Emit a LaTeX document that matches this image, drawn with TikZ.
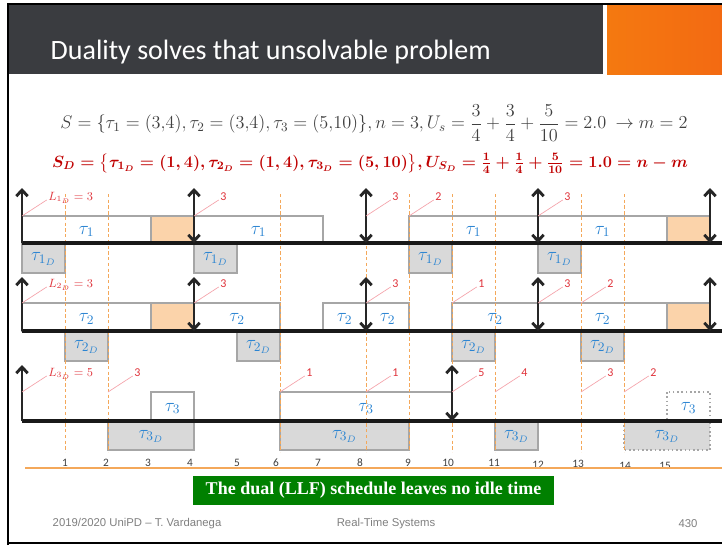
\RequirePackage{fix-cm}
\documentclass[tikz,border=0pt]{standalone}
\usepackage{amsmath}
\usepackage{fontspec}
\setmainfont{Carlito}
\newfontfamily\footfont{Liberation Sans}
\newfontfamily\notefont{Liberation Serif}
\usepackage{xcolor}
\definecolor{slidegray}{HTML}{3A3C40}
\definecolor{slideorange}{HTML}{F36A12}
\definecolor{boxgray}{HTML}{A6A6A6}
\definecolor{dualfill}{HTML}{D9D9D9}
\definecolor{idlefill}{HTML}{FBD3AA}
\definecolor{taskblue}{HTML}{2A84D2}
\definecolor{lblred}{HTML}{E0333B}
\definecolor{leadpink}{HTML}{F5A3AA}
\definecolor{tickorange}{HTML}{F4A85A}
\definecolor{formred}{HTML}{C00000}
\definecolor{formgray}{HTML}{404040}
\definecolor{notegreen}{HTML}{008000}
\usepackage{tikz}
\usetikzlibrary{arrows.meta}

\begin{document}
\begin{tikzpicture}[x=0.75pt, y=-0.75pt,
  jobbox/.style={draw=boxgray, line width=1.2pt, fill=white},
  idlebox/.style={draw=boxgray, line width=1.2pt, fill=idlefill},
  dualbox/.style={draw=boxgray, line width=1.2pt, fill=dualfill},
  ghost/.style={draw=boxgray, line width=1.2pt, dotted},
  tasklbl/.style={font=\fontsize{14}{16}\selectfont, text=taskblue, inner sep=0pt},
  numlbl/.style={font=\fontsize{9}{11}\selectfont, text=lblred, inner sep=1pt, anchor=base west, xshift=18.5pt, yshift=12pt},
  leader/.style={draw=leadpink, line width=0.5pt},
  axisline/.style={draw=black!90, line width=2.6pt},
  dlarrow/.style={draw=black!85, line width=2.2pt, -{Straight Barb[length=4.5pt, width=8.5pt]}},
  dlboth/.style={draw=black!85, line width=2.2pt, {Straight Barb[length=4.5pt, width=8.5pt]}-{Straight Barb[length=4.5pt, width=8.5pt]}},
  slot/.style={draw=tickorange, line width=0.6pt, dash pattern=on 2.5pt off 1.8pt},
  ticknum/.style={font=\fontsize{8.5}{10}\selectfont, text=black!75}]
  \fill[white] (0,0) rectangle (722,546);
  \useasboundingbox (0,0) rectangle (722,546);
  \fill[slidegray] (8,5) rectangle (603,74);
  \shade[left color=slideorange!90!yellow, right color=slideorange] (607,5) rectangle (722,74);
  \node[anchor=base west, text=white, font=\fontsize{21}{24}\selectfont] (title) at (46,60) {Duality solves that unsolvable problem};
  \draw[line width=2pt] (8,545) -- (8,4) -- (724,4);
  \draw[line width=2pt] (8,543) -- (724,543);

  \node[text=formgray, font=\fontsize{13.7}{16}\selectfont] (sysS) at (374,123)
    {$S=\{\tau_1=(3{,}4),\tau_2=(3{,}4),\tau_3=(5{,}10)\},n=3,U_s=\dfrac{3}{4}+\dfrac{3}{4}+\dfrac{5}{10}=2.0\ \rightarrow m=2$};
  \node[text=formred, font=\fontsize{12.2}{15}\selectfont\boldmath] (sysD) at (370,163)
    {$S_D=\bigl\{\tau_{1_D}=(1,4),\tau_{2_D}=(1,4),\tau_{3_D}=(5,10)\bigr\},U_{S_D}=\frac{1}{4}+\frac{1}{4}+\frac{5}{10}=1.0=n-m$};

  \begin{scope}[shift={(22,0)}, x=32.25pt]
    \foreach \a/\b/\yt/\ya/\i [count=\k] in {0/3/216/243/1,4/7/216/243/1,9/12/216/243/1,12/15/216/243/1,
        0/3/303/331/2,4/6/303/331/2,7/8/303/331/2,8/9/303/331/2,10/12/303/331/2,12/15/303/331/2,
        3/4/392/421/3,6/10/392/421/3}{
      \draw[jobbox] (\a,\yt) rectangle (\b,\ya);
      \node[tasklbl] (job\k) at ({(\a+\b)/2},{(\yt+\ya)/2+2}) {$\tau_{\i}$};}
    \foreach \a/\yt/\ya in {3/216/243,15/216/243,3/303/331,15/303/331}
      \draw[idlebox] (\a,\yt) rectangle ({\a+1},\ya);
    \draw[ghost] (15,392) rectangle (16,421);
    \node[tasklbl] (job13) at (15.5,408) {$\tau_3$};

    \foreach \a/\b/\ya/\yb/\i [count=\k] in {0/1/243/273/1,4/5/243/273/1,9/10/243/273/1,12/13/243/273/1,
        1/2/331/361/2,5/6/331/361/2,10/11/331/361/2,13/14/331/361/2,
        2/4/421/450/3,6/9/421/450/3,11/12/421/450/3}{
      \draw[dualbox] (\a,\ya) rectangle (\b,\yb);
      \node[tasklbl] (dual\k) at ({(\a+\b)/2},{(\ya+\yb)/2+1}) {$\tau_{\i_D}$};}
    \draw[ghost, fill=dualfill] (14,421) rectangle (16,450);
    \node[tasklbl] (dual12) at (15,436.5) {$\tau_{3_D}$};

    \foreach \t in {1,2,6,8,9,10,11,13,14}
      \draw[slot] (\t,194) -- (\t,452);
    \foreach \y in {243,331,421}
      \draw[axisline] (0,\y) -- (16.4,\y);

    \foreach \y/\u in {243/188,331/277,421/365}
      \draw[dlarrow] (0,\y) -- (0,\u);
    \foreach \t in {4,8,12,16}{
      \draw[dlboth] (\t,188) -- (\t,243);
      \draw[dlboth] (\t,277) -- (\t,331);}
    \draw[dlboth] (10,365) -- (10,421);

    \foreach \yt/\i/\v [count=\k] in {216/1/3,303/2/3,392/3/5}{
      \coordinate (lim\k) at (0,\yt);
      \node[numlbl] (L\k) at (lim\k) {$L_{\i_D}=\v$};
      \draw[leader] (lim\k) -- (L\k.base west);}
    \foreach \t/\yt/\n [count=\k] in {4/216/3,8/216/3,9/216/2,12/216/3,
        4/303/3,8/303/3,10/303/1,12/303/3,13/303/2,
        2/392/3,6/392/1,8/392/1,10/392/5,11/392/4,13/392/3,14/392/2}{
      \coordinate (lag\k) at (\t,\yt);
      \node[numlbl] (lax\k) at (lag\k) {\n};
      \draw[leader] (lag\k) -- (lax\k.base west);}
  \end{scope}

  \foreach \n/\px/\py in {1/65/463,2/106/463,3/148/463,4/190/463,5/237/463,6/276/463,7/318/463,8/360/463,
      9/408/463,10/448/463,11/494/463,12/538/465,13/578/464,14/625/466,15/665/466}
    \node[ticknum] (tn\n) at (\px,\py) {\n};
  \draw[tickorange, line width=1pt] (25,468) -- (722,468);

  \node[fill=notegreen, text=white, font=\notefont\bfseries\fontsize{13.5}{16}\selectfont,
    minimum width=270.75pt, minimum height=21.75pt, inner sep=0pt] (note) at (373.5,490.5)
    {The dual (LLF) schedule leaves no idle time};

  \node[anchor=west, text=black!50, font=\footfont\fontsize{8.5}{10}\selectfont] (footA) at (48,524) {2019/2020 UniPD – T. Vardanega};
  \node[text=black!50, font=\footfont\fontsize{8.5}{10}\selectfont] (footB) at (386,524) {Real-Time Systems};
  \node[text=black!50, font=\footfont\fontsize{8.5}{10}\selectfont] (footC) at (688,524) {430};
\end{tikzpicture}
\end{document}
